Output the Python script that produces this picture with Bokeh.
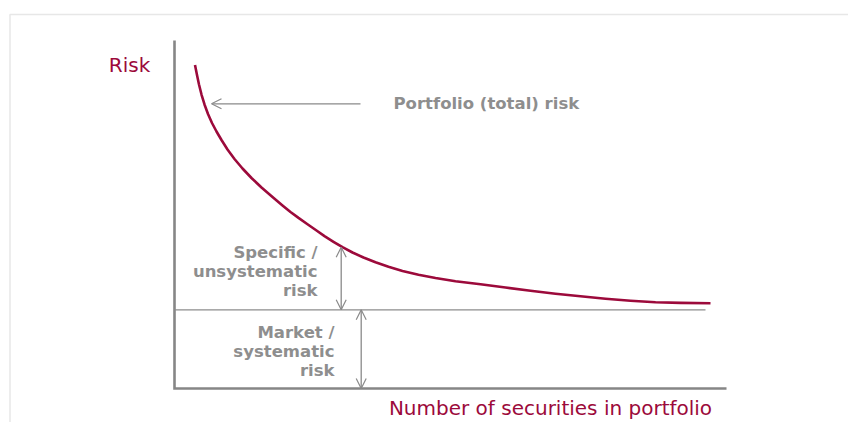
from bokeh.plotting import figure
from bokeh.models import Range1d, Arrow, OpenHead, ColumnDataSource, BoxAnnotation
from bokeh.core.properties import value
from bokeh.embed import file_html
from bokeh.resources import INLINE

# ---------------- data ----------------
securities = [1.025, 1.125, 1.225, 1.35, 1.5, 1.675, 1.875, 2.1, 2.35, 2.65, 3.0, 3.4,
              3.85, 4.35, 4.9, 5.4, 5.8, 6.2, 6.65, 7.1, 7.5, 7.95, 8.4, 8.9, 9.45,
              10.05, 10.7, 11.4, 12.2, 13.05, 14.05, 15.3, 16.55, 17.8, 19.05, 20.3,
              21.55, 22.8, 24.05, 25.3, 26.8]
total_risk = [92.96, 90.09, 87.36, 84.48, 81.61, 78.88, 76.29, 73.85, 71.41, 68.68, 65.95,
              63.22, 60.49, 57.76, 55.03, 52.59, 50.72, 49.02, 47.21, 45.40, 43.79, 42.16,
              40.60, 39.08, 37.64, 36.26, 34.97, 33.76, 32.67, 31.75, 30.83, 29.97, 29.02,
              28.10, 27.24, 26.49, 25.80, 25.23, 24.80, 24.60, 24.51]
market_risk = 22.6
market_line_end = 26.55
x_axis_end = 27.6
y_axis_top = 100.0
specific_arrow_x = 8.335
specific_arrow_top = 40.6
market_arrow_x = 9.335
pointer_from_x = 9.3
pointer_to_x = 1.85
pointer_y = 81.8

# ---------------- layout ----------------
W, H = 848, 422
PX_X, PX_Y = 20.0, 3.48          # pixels per data unit
ORIGIN_X, ORIGIN_Y = 174, 388     # canvas pixel of the data origin

CRIMSON = "#9C0A3B"
GRAY_TEXT = "#8E8E8E"
AXIS = "#868686"
FRAME = "#B0B0B0"
ARROW = "#8A8A8A"
FONT = "DejaVu Sans"

x_range = Range1d(-ORIGIN_X / PX_X, (W - ORIGIN_X) / PX_X)
y_range = Range1d(-(H - ORIGIN_Y) / PX_Y, ORIGIN_Y / PX_Y)

p = figure(width=W, height=H, x_range=x_range, y_range=y_range,
           output_backend="svg", toolbar_location=None,
           x_axis_type=None, y_axis_type=None, min_border=0,
           outline_line_color=None, background_fill_color="white",
           border_fill_color="white")
p.grid.visible = False

# outer frame (only its top and left edges are in view)
p.add_layout(BoxAnnotation(left=x_range.start + 9.5 / PX_X, top=y_range.end - 14 / PX_Y,
                           right=x_range.end + 5, bottom=y_range.start - 5,
                           fill_color=None, line_color=FRAME, line_width=1.5))

# axes
p.line([0, 0, x_axis_end], [y_axis_top, 0, 0], line_color=AXIS, line_width=2.6,
       line_join="miter")

# market risk level
p.line([0, market_line_end], [market_risk, market_risk], line_color="#8C8C8C",
       line_width=1.4)

# total risk curve
p.line(securities, total_risk, line_color=CRIMSON, line_width=2.6, line_join="round")

# arrows
both = ColumnDataSource(dict(x0=[specific_arrow_x, market_arrow_x],
                             y0=[market_risk, 0],
                             x1=[specific_arrow_x, market_arrow_x],
                             y1=[specific_arrow_top, market_risk]))
p.add_layout(Arrow(start=OpenHead(size=10, line_color=ARROW, line_width=1.2),
                   end=OpenHead(size=10, line_color=ARROW, line_width=1.2),
                   x_start="x0", y_start="y0", x_end="x1", y_end="y1", source=both,
                   line_color=ARROW, line_width=1.3))
p.add_layout(Arrow(end=OpenHead(size=10, line_color=ARROW, line_width=1.2),
                   x_start=pointer_from_x, y_start=pointer_y,
                   x_end=pointer_to_x, y_end=pointer_y,
                   line_color=ARROW, line_width=1.3))

# crimson axis titles
p.text(x=[-2.25], y=[92.96], text=["Risk"], text_color=CRIMSON,
       text_font=value(FONT), text_font_size="20px", text_align="center",
       text_baseline="middle")
p.text(x=[18.8], y=[-5.5], text=["Number of securities in portfolio"], text_color=CRIMSON,
       text_font=value(FONT), text_font_size="20px", text_align="center",
       text_baseline="middle")

# gray annotations
p.text(x=[10.95], y=[82.04], text=["Portfolio (total) risk"], text_color=GRAY_TEXT,
       text_font=value(FONT), text_font_size="16.5px", text_font_style="bold",
       text_align="left", text_baseline="middle")
p.text(x=[7.15, 7.15, 7.15], y=[38.94, 33.53, 28.13],
       text=["Specific /", "unsystematic", "risk"], text_color=GRAY_TEXT,
       text_font=value(FONT), text_font_size="16.5px", text_font_style="bold",
       text_align="right", text_baseline="middle")
p.text(x=[8.0, 8.0, 8.0], y=[16.01, 10.55, 5.26],
       text=["Market /", "systematic", "risk"], text_color=GRAY_TEXT,
       text_font=value(FONT), text_font_size="16.5px", text_font_style="bold",
       text_align="right", text_baseline="middle")

open("out.html", "w").write(file_html(p, INLINE))
